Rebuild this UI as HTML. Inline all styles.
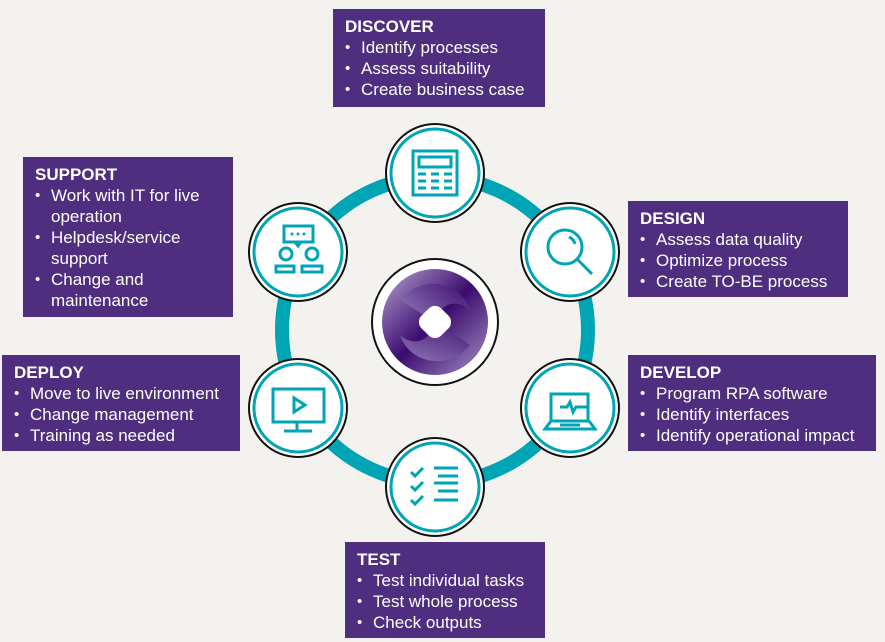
<!DOCTYPE html>
<html><head><style>
body{margin:0;width:885px;height:642px;background:#F3F2EF;position:relative;overflow:hidden;font-family:"Liberation Sans",Arial,sans-serif}
.b{position:absolute;background:#4F2D7F;color:#fff;font-size:17px;line-height:21px;box-sizing:border-box;padding:7px 10px 0 12px}
.b h{display:block;font-weight:bold;}
.b div{position:relative;padding-left:16px}
.b div:before{content:"•";position:absolute;left:0;font-size:15px}
</style></head><body>
<svg width="885" height="642" style="position:absolute;left:0;top:0">
<defs>
<linearGradient id="g1" x1="0" y1="0" x2="1" y2="1"><stop offset="0" stop-color="#b9a5d2"/><stop offset="0.5" stop-color="#3b0c6e"/><stop offset="1" stop-color="#a893c9"/></linearGradient>
<linearGradient id="g2" x1="1" y1="0" x2="0" y2="1"><stop offset="0" stop-color="#3b0c6e"/><stop offset="1" stop-color="#a18cc4"/></linearGradient>
</defs>
<circle cx="435" cy="330" r="153" fill="none" stroke="#00A5B5" stroke-width="14"/>
<g fill="#fff" stroke="#111" stroke-width="2">
<circle cx="435" cy="173" r="49"/><circle cx="570" cy="252" r="49"/><circle cx="570" cy="408" r="49"/>
<circle cx="435" cy="487" r="49"/><circle cx="298" cy="408" r="49"/><circle cx="298" cy="252" r="49"/>
<circle cx="435" cy="322" r="63"/>
</g>
<g fill="none" stroke="#00A5B5" stroke-width="3">
<circle cx="435" cy="173" r="44"/><circle cx="570" cy="252" r="44"/><circle cx="570" cy="408" r="44"/>
<circle cx="435" cy="487" r="44"/><circle cx="298" cy="408" r="44"/><circle cx="298" cy="252" r="44"/>
<rect x="413" y="151" width="44" height="44"/><rect x="419" y="157" width="32" height="10"/>
<path d="M418 174h8M431 174h8M444 174h8M418 181h8M431 181h8M444 181h8M418 188h8M431 188h8M444 188h8"/>
<circle cx="565" cy="247" r="17"/><path d="M577 259l15 15M569 237a10 10 0 0 1 6 7"/>
<path d="M551 394h37v27h-37zM551 421l-6 8h50l-6-8M560 407h7l3-5 3 10 3-5h12M560 425h20"/>
<path d="M411 472l4 4 8-8M411 486l4 4 8-8M411 500l4 4 8-8M434 468h24M438 476h20M434 483h24M438 491h20M434 500h24"/>
<rect x="273" y="389" width="51" height="33"/><path d="M297 422v9M284 431h28M294 398v14l11-7z"/>
<rect x="284" y="226" width="29" height="16"/><path d="M295 242l3 4 3-4"/>
<circle cx="286" cy="254" r="6"/><circle cx="312" cy="254" r="6"/>
<rect x="276" y="266" width="18" height="6"/><rect x="302" y="266" width="20" height="6"/>
</g>
<g fill="#00A5B5"><circle cx="292" cy="234" r="1.5"/><circle cx="298" cy="234" r="1.5"/><circle cx="304" cy="234" r="1.5"/></g>
<circle cx="435" cy="322" r="53" fill="url(#g1)"/>
<path d="M400 300 C420 275 460 280 470 310 C460 300 440 300 435 322 Z" fill="url(#g2)" opacity="0.8"/>
<path d="M470 345 C450 370 410 365 400 335 C410 345 430 345 435 322 Z" fill="url(#g2)" opacity="0.8"/>
<rect x="421" y="308" width="28" height="28" rx="9" transform="rotate(45 435 322)" fill="#fff"/>
</svg>
<div class="b" style="left:333px;top:9px;width:212px;height:98px"><h>DISCOVER</h><div>Identify processes</div><div>Assess suitability</div><div>Create business case</div></div>
<div class="b" style="left:23px;top:157px;width:210px;height:160px"><h>SUPPORT</h><div>Work with IT for live operation</div><div>Helpdesk/service support</div><div>Change and maintenance</div></div>
<div class="b" style="left:628px;top:201px;width:220px;height:96px"><h>DESIGN</h><div>Assess data quality</div><div>Optimize process</div><div>Create TO-BE process</div></div>
<div class="b" style="left:2px;top:355px;width:238px;height:96px"><h>DEPLOY</h><div>Move to live environment</div><div>Change management</div><div>Training as needed</div></div>
<div class="b" style="left:628px;top:355px;width:248px;height:96px"><h>DEVELOP</h><div>Program RPA software</div><div>Identify interfaces</div><div>Identify operational impact</div></div>
<div class="b" style="left:345px;top:542px;width:200px;height:96px"><h>TEST</h><div>Test individual tasks</div><div>Test whole process</div><div>Check outputs</div></div>
</body></html>
